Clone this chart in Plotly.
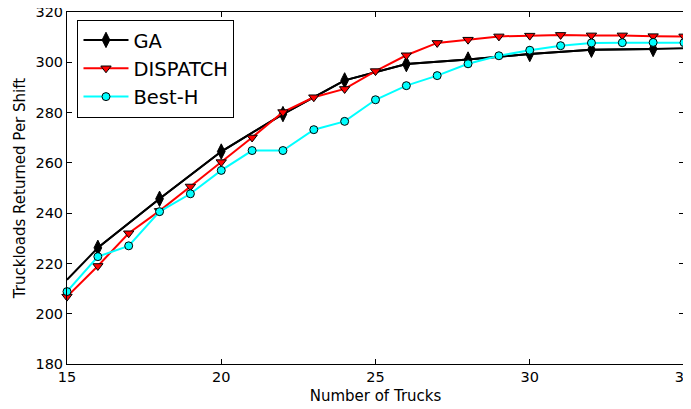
import plotly.graph_objects as go

# Data
ga_x = [15, 16, 18, 20, 22, 24, 26, 28, 30, 32, 34, 35]
ga_y = [213.5, 226.2, 245.7, 264.5, 279.4, 292.8, 299.3, 301.1, 303.3, 305.0, 305.3, 305.6]

trucks = list(range(15, 36))
dispatch_y = [206.8, 219.0, 232.0, 240.9, 250.6, 260.3, 270.1, 280.2, 286.1, 289.4, 296.5,
              302.8, 307.7, 309.0, 310.3, 310.6, 310.9, 310.7, 310.7, 310.4, 310.3]
besth_y = [208.8, 222.7, 227.0, 240.6, 247.7, 257.0, 264.9, 264.9, 273.2, 276.5, 285.1,
           290.7, 294.7, 299.4, 302.6, 304.8, 306.6, 307.7, 307.8, 307.9, 307.8]

x_ticks = [15, 20, 25, 30, 35]
y_ticks = [180, 200, 220, 240, 260, 280, 300, 320]

font = "DejaVu Sans, Arial, sans-serif"

fig = go.Figure()

# GA: full line, markers only on interior points
fig.add_trace(go.Scatter(
    x=ga_x, y=ga_y, mode="lines", line=dict(color="black", width=2),
    legendgroup="ga", showlegend=False, hoverinfo="skip", cliponaxis=False))
fig.add_trace(go.Scatter(
    x=ga_x[1:-1], y=ga_y[1:-1], mode="lines+markers", name="GA",
    legendgroup="ga",
    line=dict(color="black", width=2),
    marker=dict(symbol="diamond-tall", size=11, color="black",
                line=dict(color="black", width=1))))

fig.add_trace(go.Scatter(
    x=trucks, y=dispatch_y, mode="lines+markers", name="DISPATCH",
    line=dict(color="#ff0000", width=2), cliponaxis=False,
    marker=dict(symbol="triangle-down", size=9, color="#ff0000",
                line=dict(color="black", width=1))))

fig.add_trace(go.Scatter(
    x=trucks, y=besth_y, mode="lines+markers", name="Best-H",
    line=dict(color="#00ffff", width=2), cliponaxis=False,
    marker=dict(symbol="circle", size=8, color="#00ffff",
                line=dict(color="black", width=1))))

axis_common = dict(
    showline=True, linecolor="black", linewidth=1, mirror="allticks",
    ticks="inside", ticklen=5, tickwidth=1, tickcolor="black",
    showgrid=False, zeroline=False, automargin=False,
    ticklabeloverflow="allow",
    tickfont=dict(family=font, size=14.5, color="black"),
)

# The page body has an 8px margin, so the figure is sized/offset to compensate.
fig.update_layout(
    width=683, height=401,
    margin=dict(l=59, r=7, t=4, b=45),
    paper_bgcolor="white", plot_bgcolor="white",
    font=dict(family=font, color="black"),
    xaxis=dict(range=[15, 35], tickvals=x_ticks, ticktext=[str(v) for v in x_ticks],
               title=dict(text="Number of Trucks", font=dict(family=font, size=15), standoff=6),
               **axis_common),
    yaxis=dict(range=[180, 320], tickvals=y_ticks, ticktext=[str(v) for v in y_ticks],
               title=dict(text="Truckloads Returned Per Shift", font=dict(family=font, size=15), standoff=6),
               **axis_common),
    legend=dict(x=0.017, y=0.978, xanchor="left", yanchor="top",
                bgcolor="white", bordercolor="black", borderwidth=1,
                font=dict(family=font, size=19.5, color="black"),
                tracegroupgap=0, itemwidth=45),
    showlegend=True,
)

fig.write_html("out.html")
